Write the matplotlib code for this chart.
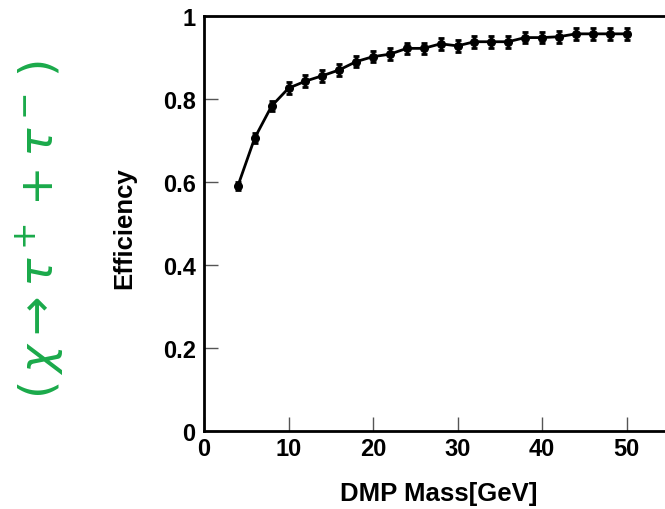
import matplotlib
matplotlib.use("Agg")
import matplotlib.pyplot as plt

mass = [4, 6, 8, 10, 12, 14, 16, 18, 20, 22, 24, 26, 28, 30, 32, 34, 36, 38, 40, 42, 44, 46, 48, 50]
eff = [0.590, 0.706, 0.783, 0.826, 0.843, 0.856, 0.870, 0.890, 0.902, 0.908, 0.922, 0.922,
       0.933, 0.928, 0.938, 0.938, 0.938, 0.948, 0.948, 0.950, 0.957, 0.957, 0.957, 0.957]
err = [0.010, 0.012, 0.013, 0.014, 0.014, 0.014, 0.014, 0.014, 0.014, 0.014, 0.014, 0.014,
       0.014, 0.014, 0.014, 0.014, 0.014, 0.014, 0.014, 0.014, 0.014, 0.014, 0.014, 0.014]
xticks = [0, 10, 20, 30, 40, 50]
yticks = [0, 0.2, 0.4, 0.6, 0.8, 1.0]
yticklabels = ["0", "0.2", "0.4", "0.6", "0.8", "1"]

plt.rcParams['font.family'] = ['Liberation Sans', 'DejaVu Sans']
fig = plt.figure(figsize=(6.65, 5.10), dpi=100)
ax = fig.add_axes([204/665, 78/510, 507/665, 415/510])

ax.errorbar(mass, eff, yerr=err, color='black', lw=2, marker='o', ms=5.5,
            capsize=2.5, elinewidth=2, capthick=2)

ax.set_xlim(0, 60)
ax.set_ylim(0, 1)
ax.set_xticks(xticks)
ax.set_xticklabels([str(t) for t in xticks])
ax.set_yticks(yticks)
ax.set_yticklabels(yticklabels)
ax.tick_params(direction='in', length=10, width=1, color='#555555', labelsize=17)
ax.tick_params(axis='x', pad=4)
ax.tick_params(axis='y', pad=6)
for lab in ax.get_xticklabels() + ax.get_yticklabels():
    lab.set_fontweight('bold')
for s in ax.spines.values():
    s.set_linewidth(2)

ax.set_xlabel('DMP Mass[GeV]', fontsize=18.5, fontweight='bold', va='center')
ax.set_ylabel('Efficiency', fontsize=18.5, fontweight='bold', va='center')
ax.xaxis.set_label_coords((439-204)/507, -(494-432)/415)
ax.yaxis.set_label_coords(-(204-124)/507, (432-228)/415)

fig.text(40/665, 1 - 230/510, r'$(\,\chi \rightarrow \tau^+ + \tau^-\,)$',
         rotation=90, color='#1aaa4a', fontsize=34, ha='center', va='center')

fig.savefig('out.png', dpi=100)
